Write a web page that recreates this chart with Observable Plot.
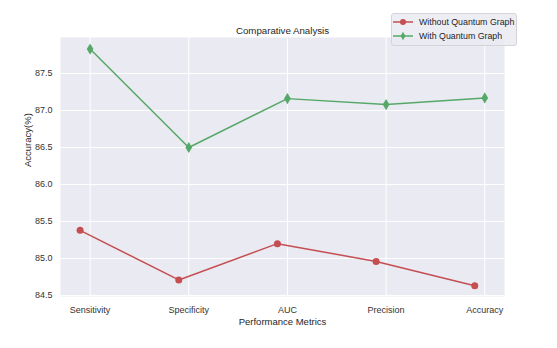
<!DOCTYPE html>
<html>
<head>
<meta charset="utf-8">
<script src="https://cdn.jsdelivr.net/npm/d3@7"></script>
<script src="https://cdn.jsdelivr.net/npm/@observablehq/plot@0.6"></script>
<style>
  html, body { margin: 0; padding: 0; background: #fff; }
  #wrap { position: relative; width: 557px; height: 348px; font-family: "Liberation Sans", Arial, sans-serif; }
  #legend { position: absolute; left: 391px; top: 13px; width: 126px; height: 33px; background: rgba(234,234,242,0.85);
    border: 1px solid #d4d4d8; border-radius: 3px; box-sizing: border-box; font-size: 8.8px; color: #262626; }
  .entry { position: absolute; left: 1px; display: flex; align-items: center; white-space: nowrap; }
  .entry svg { margin-right: 6px; }
</style>
</head>
<body>
<div id="wrap"><div id="legend"></div></div>
<script>
const categories = ["Sensitivity", "Specificity", "AUC", "Precision", "Accuracy"];
const withoutQuantum = [85.38, 84.71, 85.20, 84.96, 84.63];
const withQuantum = [87.83, 86.50, 87.16, 87.08, 87.17];
const yTicks = [84.5, 85.0, 85.5, 86.0, 86.5, 87.0, 87.5];
const seriesNames = ["Without Quantum Graph", "With Quantum Graph"];
const seriesColors = ["#C44E52", "#55A868"];

const idx = categories.map((c, i) => i);
const redData = idx.map(i => ({i, v: withoutQuantum[i]}));
const greenData = idx.map(i => ({i, v: withQuantum[i]}));

const thinDiamond = {
  draw(ctx, size) {
    const h = Math.sqrt(size) * 0.75, w = h * 0.6;
    ctx.moveTo(0, -h); ctx.lineTo(w, 0); ctx.lineTo(0, h); ctx.lineTo(-w, 0); ctx.closePath();
  }
};

const font = "Liberation Sans, Arial, sans-serif";
const chart = Plot.plot({
  width: 557, height: 348,
  marginLeft: 60, marginRight: 53, marginTop: 37, marginBottom: 52,
  style: {fontFamily: font, fontSize: "9px", color: "#262626", background: "transparent"},
  x: {type: "linear", domain: [-0.3, 4.2], axis: null},
  y: {domain: [84.486, 87.986], axis: null},
  marks: [
    Plot.frame({fill: "#EAEAF2", stroke: null}),
    Plot.gridY(yTicks, {stroke: "#fff", strokeOpacity: 1, strokeWidth: 1}),
    Plot.gridX(idx, {stroke: "#fff", strokeOpacity: 1, strokeWidth: 1}),
    Plot.axisY(yTicks, {tickSize: 0, tickPadding: 8, tickFormat: d => d.toFixed(1), fill: "#333", fontSize: 9, label: null}),
    Plot.axisX(idx, {tickSize: 0, tickPadding: 10, tickFormat: i => categories[i], fill: "#333", fontSize: 9, label: null}),
    Plot.line(redData, {x: "i", y: "v", stroke: seriesColors[0], strokeWidth: 1.5, dx: -10}),
    Plot.dot(redData, {x: "i", y: "v", fill: seriesColors[0], r: 3.5, dx: -10}),
    Plot.line(greenData, {x: "i", y: "v", stroke: seriesColors[1], strokeWidth: 1.5}),
    Plot.dot(greenData, {x: "i", y: "v", fill: seriesColors[1], symbol: thinDiamond, r: 4.2}),
    Plot.text(["Comparative Analysis"], {frameAnchor: "top", dy: -10, fontSize: 9.7, fill: "#262626"}),
    Plot.text(["Performance Metrics"], {frameAnchor: "bottom", dy: 28, fontSize: 9.5, fill: "#262626"}),
    Plot.text(["Accuracy(%)"], {frameAnchor: "left", dx: -33, rotate: -90, fontSize: 9.5, fill: "#262626"})
  ]
});
const wrap = document.getElementById("wrap");
wrap.insertBefore(chart, wrap.firstChild);

const legend = document.getElementById("legend");
seriesNames.forEach((name, k) => {
  const e = document.createElement("div");
  e.className = "entry";
  e.style.top = (k === 0 ? 1 : 15) + "px";
  const marker = k === 0
    ? `<circle cx="10" cy="7" r="3" fill="${seriesColors[k]}"/>`
    : `<path d="M10,2.8 L12.4,7 L10,11.2 L7.6,7 Z" fill="${seriesColors[k]}"/>`;
  e.innerHTML = `<svg width="20" height="14"><line x1="0" x2="20" y1="7" y2="7" stroke="${seriesColors[k]}" stroke-width="1.5"/>${marker}</svg><span>${name}</span>`;
  legend.appendChild(e);
});
</script>
</body>
</html>
